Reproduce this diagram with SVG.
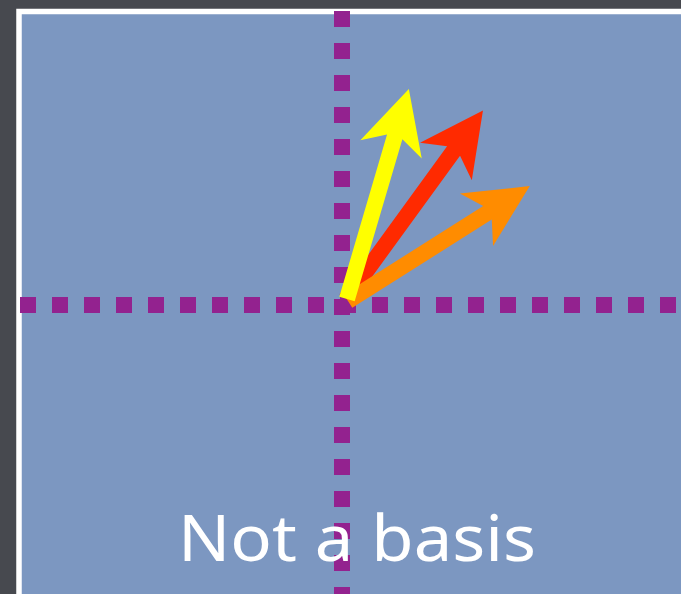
<svg xmlns="http://www.w3.org/2000/svg" width="681" height="594" viewBox="0 0 681 594">
<style>
.axis{stroke:#93228f;stroke-width:16;stroke-dasharray:16 16;fill:none}
.label{font-family:"Noto Sans","DejaVu Sans",sans-serif;font-size:64px;fill:#ffffff}
</style>
<rect id="background" x="0" y="0" width="681" height="594" fill="#47494f"/>
<g id="panel">
<rect x="19" y="11.5" width="700" height="620" fill="#7c97c1" stroke="#ffffff" stroke-width="5.5"/>
</g>
<g id="axes">
<line class="axis" x1="342" y1="11" x2="342" y2="600"/>
<line class="axis" x1="20" y1="305" x2="700" y2="305"/>
</g>
<g id="connectors">
<g id="red-vector" transform="translate(346,299) rotate(-54)">
<polygon fill="#ff2a00" points="0,-8 183,-8 170,-32 233,0 170,32 183,8 0,8"/>
</g>
<g id="orange-vector" transform="translate(348,301) rotate(-32.3)">
<polygon fill="#ff8c00" points="0,-8 165,-8 152,-31 215,0 152,31 165,8 0,8"/>
</g>
<g id="yellow-vector" transform="translate(347,299) rotate(-73.6)">
<polygon fill="#ffff00" points="0,-8 169,-8 156,-32 219,0 156,32 169,8 0,8"/>
</g>
</g>
<g id="caption">
<text class="label" x="178" y="561" textLength="358" lengthAdjust="spacingAndGlyphs">Not a basis</text>
</g>
</svg>
